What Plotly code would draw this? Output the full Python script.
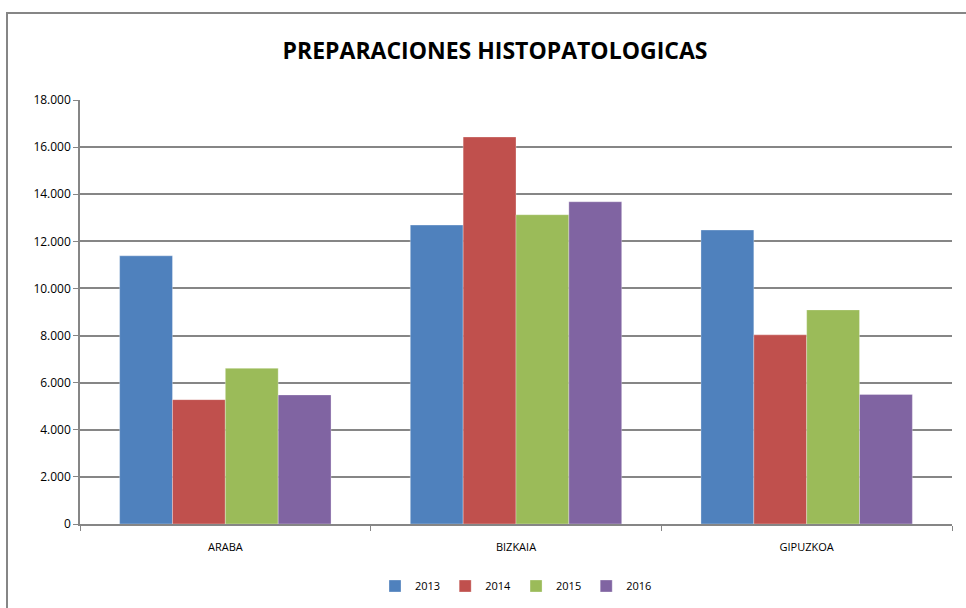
import plotly.graph_objects as go

categories = ["ARABA", "BIZKAIA", "GIPUZKOA"]
years = ["2013", "2014", "2015", "2016"]
v2013 = [11385, 12690, 12480]
v2014 = [5280, 16430, 8030]
v2015 = [6610, 13130, 9090]
v2016 = [5480, 13680, 5500]
series = [v2013, v2014, v2015, v2016]
colors = ["#4F81BD", "#C0504D", "#9BBB59", "#8064A2"]
tick_vals = [0, 2000, 4000, 6000, 8000, 10000, 12000, 14000, 16000, 18000]

fig = go.Figure()
for name, vals, col in zip(years, series, colors):
    fig.add_trace(go.Bar(name=name, x=categories, y=vals, marker_color=col,
                         marker_line=dict(color="rgba(255,255,255,0.5)", width=0.6)))

W, H = 966, 608
L, R, T, B = 80, 14, 100, 84
pw, ph = W - L - R, H - T - B

fig.update_layout(
    width=W, height=H,
    margin=dict(l=L, r=R, t=T, b=B, autoexpand=False),
    paper_bgcolor="white", plot_bgcolor="white",
    barmode="group", bargap=0.2727, bargroupgap=0,
    separators=",.",
    font=dict(family="Open Sans, Liberation Sans, sans-serif", size=12, color="#000"),
    title=dict(text="<b>PREPARACIONES HISTOPATOLOGICAS</b>", x=(495 - L) / pw, xref="paper",
               xanchor="center", y=1 - 51 / H, yanchor="middle",
               font=dict(size=23, color="#000")),
    legend=dict(orientation="h", x=0.5, xanchor="center", y=-(586 - (H - B)) / ph,
                yanchor="middle", font=dict(size=11), itemwidth=30,
                traceorder="normal"),
    showlegend=True,
    shapes=[dict(type="rect", xref="paper", yref="paper",
                 x0=(7 - L) / pw, x1=(980 - L) / pw,
                 y0=-(620 - (H - B)) / ph, y1=1 + (T - 13) / ph,
                 line=dict(color="#868686", width=2), layer="below")],
)
fig.update_xaxes(type="category", showline=True, linecolor="#868686", linewidth=1.5,
                 ticks="outside", tickson="boundaries", ticklen=5, tickcolor="#868686",
                 showgrid=False, tickfont=dict(size=11), ticklabelstandoff=12)
fig.update_yaxes(range=[0, 18000], tickvals=tick_vals, tickformat=",d",
                 showline=True, linecolor="#868686", linewidth=1.5,
                 ticks="outside", ticklen=5, tickcolor="#868686",
                 showgrid=True, gridcolor="#868686", gridwidth=1.5,
                 zeroline=False, tickfont=dict(size=12))

fig.write_html("out.html", config={"displayModeBar": False},
               post_script="document.body.style.margin='0';")
